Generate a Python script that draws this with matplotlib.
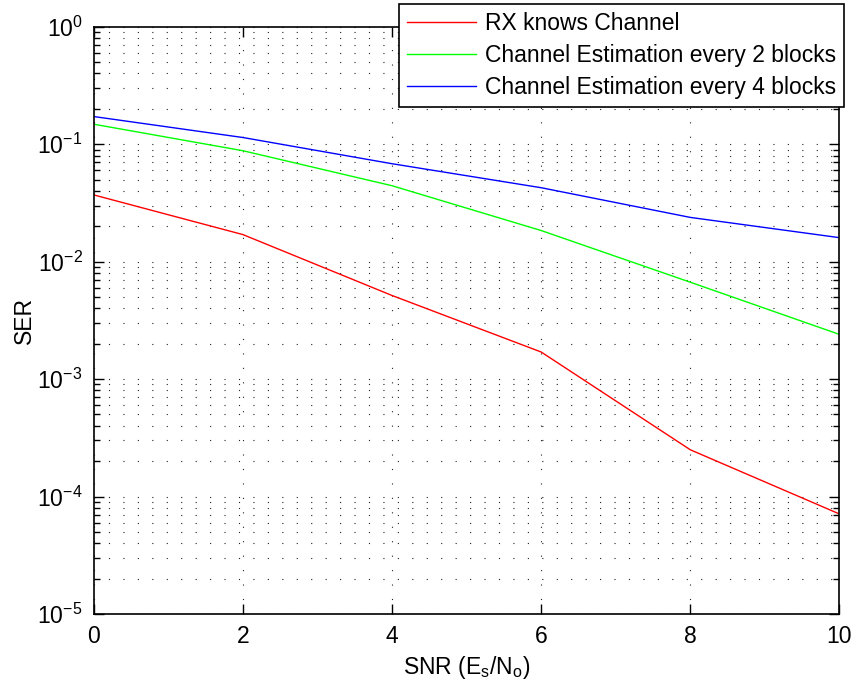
import matplotlib
matplotlib.use("Agg")
import matplotlib.pyplot as plt
from matplotlib.ticker import LogLocator, NullFormatter, FixedLocator

plt.rcParams['font.family'] = ['Liberation Sans', 'DejaVu Sans']
plt.rcParams['mathtext.fontset'] = 'custom'
plt.rcParams['mathtext.rm'] = 'Liberation Sans'

snr = [0, 2, 4, 6, 8, 10]
ser_rx_known = [0.037, 0.0170, 0.00515, 0.00170, 0.00025, 7.1e-5]
ser_est_2 = [0.148, 0.088, 0.0443, 0.0184, 0.00668, 0.0024]
ser_est_4 = [0.172, 0.114, 0.0682, 0.0426, 0.0238, 0.0160]
labels = ["RX knows Channel", "Channel Estimation every 2 blocks",
          "Channel Estimation every 4 blocks"]
colors = ["#ff0000", "#00ff00", "#0000ff"]
xticks = [0, 2, 4, 6, 8, 10]

FS = 16.5

fig = plt.figure(figsize=(8.56, 6.86), dpi=100)
ax = fig.add_axes([0.1095, 0.105, 0.8712, 0.856])

for y, lab, c in zip([ser_rx_known, ser_est_2, ser_est_4], labels, colors):
    ax.semilogy(snr, y, color=c, lw=1.0, label=lab)

ax.set_xlim(0, 10)
ax.set_ylim(1e-5, 1)
ax.xaxis.set_major_locator(FixedLocator(xticks))
ax.yaxis.set_major_locator(LogLocator(base=10, numticks=10))
ax.yaxis.set_minor_locator(LogLocator(base=10, subs=range(2, 10), numticks=20))
ax.yaxis.set_minor_formatter(NullFormatter())

dots = (0, (1, 12))
ax.grid(True, which='major', axis='both', color='#222222', lw=0.8, linestyle=dots)
ax.grid(True, which='minor', axis='y', color='#222222', lw=0.8, linestyle=dots)

ax.tick_params(which='both', direction='in', top=True, right=True, labelsize=FS, width=1.0)
ax.tick_params(which='major', length=7, pad=8)
ax.tick_params(which='minor', length=4)
for s in ax.spines.values():
    s.set_linewidth(1.2)

ax.set_xlabel('SNR (E$_\\mathregular{s}$/N$_\\mathregular{o}$)', fontsize=FS, labelpad=4)
ax.set_ylabel('SER', fontsize=FS, labelpad=1)

leg = ax.legend(loc='upper right', bbox_to_anchor=(844/856, 1 - 4/686),
                bbox_transform=fig.transFigure, fontsize=FS, frameon=True,
                fancybox=False, edgecolor='black', framealpha=1,
                borderpad=0.35, labelspacing=0.4, handlelength=3.0,
                handletextpad=0.4, borderaxespad=0)
leg.get_frame().set_linewidth(1.2)

fig.savefig('out.png', dpi=100)
